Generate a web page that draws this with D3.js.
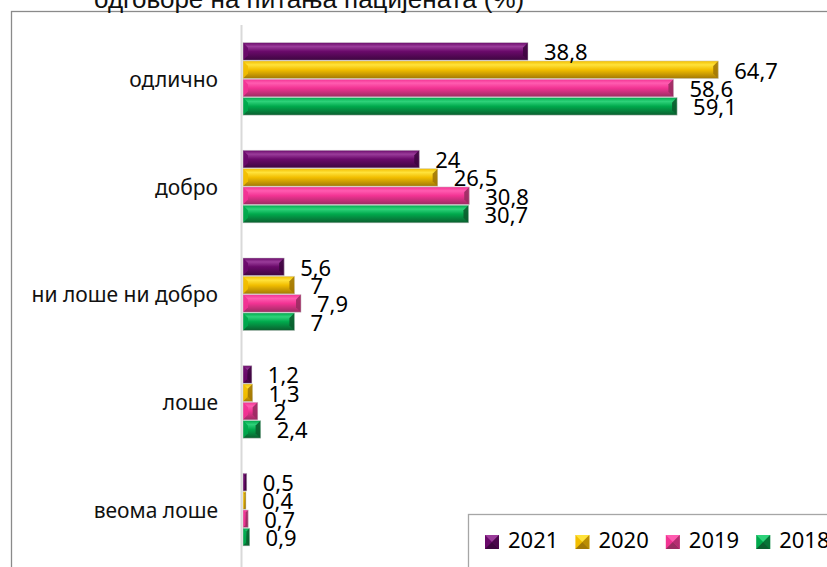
<!DOCTYPE html>
<html>
<head>
<meta charset="utf-8">
<script src="https://cdn.jsdelivr.net/npm/d3@7"></script>
<style>
  html, body { margin: 0; padding: 0; background: #fff; }
  svg { display: block; }
</style>
</head>
<body>
<svg id="chart" width="827" height="567"></svg>
<script>
// ---- data ----
const categories = ["одлично", "добро", "ни лоше ни добро", "лоше", "веома лоше"];
const seriesNames = ["2021", "2020", "2019", "2018"];
const values2021 = [38.8, 24, 5.6, 1.2, 0.5];
const values2020 = [64.7, 26.5, 7, 1.3, 0.4];
const values2019 = [58.6, 30.8, 7.9, 2, 0.7];
const values2018 = [59.1, 30.7, 7, 2.4, 0.9];
const titleText = "одговоре на питања пацијената (%)";

const seriesValues = [values2021, values2020, values2019, values2018];
// colour stops: [light highlight, main, dark]
const palette = [
  ["#9a3c9a", "#6a0a6a", "#3e0640"],
  ["#ffe23a", "#f2be00", "#a27806"],
  ["#ff5cb0", "#f23393", "#9a2c62"],
  ["#2ed27a", "#00a94c", "#0b5e2f"]
];

const svg = d3.select("#chart");
const defs = svg.append("defs");

palette.forEach((c, i) => {
  const g = defs.append("linearGradient").attr("id", "grad" + i)
    .attr("x1", 0).attr("y1", 0).attr("x2", 0).attr("y2", 1);
  g.append("stop").attr("offset", "0%").attr("stop-color", c[1]);
  g.append("stop").attr("offset", "22%").attr("stop-color", c[0]);
  g.append("stop").attr("offset", "50%").attr("stop-color", c[1]);
  g.append("stop").attr("offset", "100%").attr("stop-color", c[2]);
});

// ---- frame & title ----
svg.append("rect").attr("x", 11.5).attr("y", 11.5).attr("width", 900).attr("height", 700)
  .attr("fill", "none").attr("stroke", "#8a8a8a").attr("stroke-width", 1.3);

svg.append("text").attr("x", 94).attr("y", 8)
  .attr("font-family", "'Liberation Sans', Arial, sans-serif")
  .attr("font-size", 26).attr("fill", "#111")
  .text(titleText);

// ---- scales ----
const x = d3.scaleLinear().domain([0, 80]).range([243, 830.6]);
const y = d3.scaleBand().domain(categories).range([25, 563.5])
  .paddingInner(0.313).paddingOuter(0.157);
const ySub = d3.scaleBand().domain(seriesNames).range([0, y.bandwidth()]).padding(0.04);

// axis line
svg.append("line").attr("x1", 241.5).attr("x2", 241.5).attr("y1", 25).attr("y2", 567)
  .attr("stroke", "#d9d9d9").attr("stroke-width", 2);

// category labels
svg.append("g").selectAll("text").data(categories).join("text")
  .attr("x", 218).attr("y", d => y(d) + y.bandwidth() / 2)
  .attr("text-anchor", "end").attr("dominant-baseline", "central")
  .attr("font-family", "'Noto Sans', 'Open Sans', sans-serif")
  .attr("font-size", 21).attr("fill", "#111")
  .text(d => d);

// ---- bars ----
function drawBevelBar(g, x0, x1, y0, y1, si) {
  const c = palette[si];
  const w = x1 - x0, h = y1 - y0;
  const b = Math.min(5, w / 2, h / 2);
  g.append("rect").attr("x", x0).attr("y", y0).attr("width", Math.max(w, 0.5)).attr("height", h)
    .attr("fill", "url(#grad" + si + ")");
  g.append("path").attr("d", `M${x0},${y0}L${x0 + b},${y0 + b}L${x0 + b},${y1 - b}L${x0},${y1}Z`)
    .attr("fill", c[1]).attr("opacity", 0.9);
  g.append("path").attr("d", `M${x1},${y0}L${x1 - b},${y0 + b}L${x1 - b},${y1 - b}L${x1},${y1}Z`)
    .attr("fill", c[2]).attr("opacity", 0.9);
  g.append("rect").attr("x", x0).attr("y", y0).attr("width", Math.max(w, 0.5)).attr("height", h)
    .attr("fill", "none").attr("stroke", "rgba(200,200,200,0.6)").attr("stroke-width", 0.8);
}

const barsG = svg.append("g");
seriesValues.forEach((vals, si) => {
  vals.forEach((v, ci) => {
    const y0 = y(categories[ci]) + ySub(seriesNames[si]);
    const y1 = y0 + ySub.bandwidth();
    drawBevelBar(barsG, x(0), x(v), y0, y1, si);
  });
});

// value labels
const labelsG = svg.append("g");
seriesValues.forEach((vals, si) => {
  vals.forEach((v, ci) => {
    const yc = y(categories[ci]) + ySub(seriesNames[si]) + ySub.bandwidth() / 2;
    labelsG.append("text")
      .attr("x", x(v) + 16).attr("y", yc)
      .attr("dominant-baseline", "central")
      .attr("font-family", "'Noto Sans', 'Open Sans', sans-serif")
      .attr("font-size", 22).attr("fill", "#000")
      .text(String(v).replace(".", ","));
  });
});

// ---- legend ----
svg.append("rect").attr("x", 468.5).attr("y", 514.5).attr("width", 500).attr("height", 100)
  .attr("fill", "#fff").attr("stroke", "#a6a6a6").attr("stroke-width", 1.3);

const legendG = svg.append("g");
seriesNames.forEach((name, i) => {
  const lx = 485 + i * 90.4;
  const ly = 535;
  const s = 14, b = 7;
  const c = palette[i];
  legendG.append("rect").attr("x", lx).attr("y", ly).attr("width", s).attr("height", s).attr("fill", c[1]);
  legendG.append("path").attr("d", `M${lx},${ly}L${lx + s},${ly}L${lx + b},${ly + b}Z`).attr("fill", c[0]);
  legendG.append("path").attr("d", `M${lx},${ly + s}L${lx + s},${ly + s}L${lx + b},${ly + b}Z`).attr("fill", c[2]);
  legendG.append("path").attr("d", `M${lx + s},${ly}L${lx + s},${ly + s}L${lx + b},${ly + b}Z`).attr("fill", c[2]).attr("opacity", 0.7);
  legendG.append("text").attr("x", lx + 23).attr("y", ly + 13)
    .attr("font-family", "'Noto Sans', 'Open Sans', sans-serif")
    .attr("font-size", 22).attr("fill", "#000").text(name);
});
</script>
</body>
</html>
